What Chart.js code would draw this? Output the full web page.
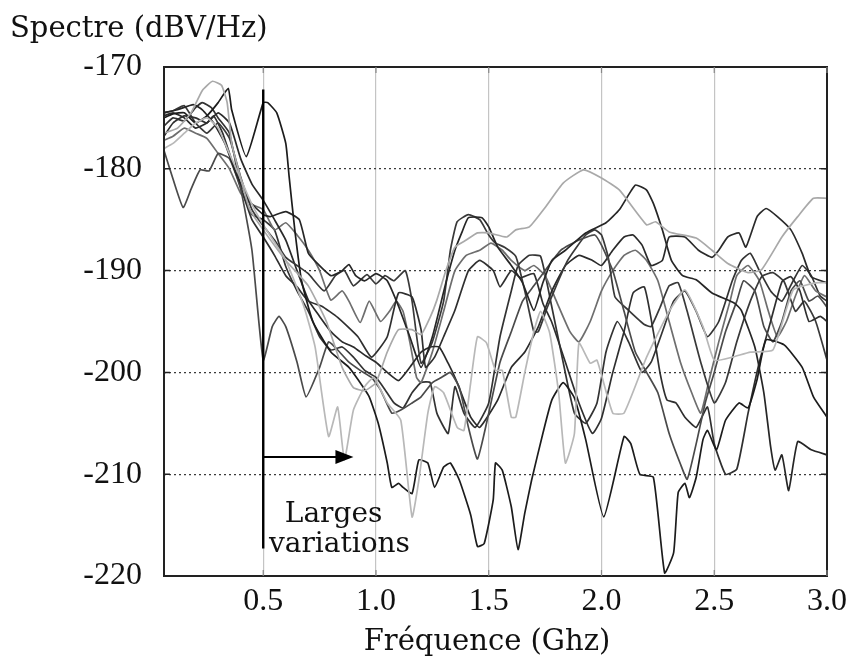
<!DOCTYPE html>
<html><head><meta charset="utf-8">
<script src="https://cdn.jsdelivr.net/npm/chart.js@4.4.1/dist/chart.umd.min.js"></script>
<style>html,body{margin:0;padding:0;background:#fff;overflow:hidden}canvas{display:block}</style>
</head><body>
<canvas id="c" width="853" height="659"></canvas>
<script>
// ---- axis ticks ----
const xTickValues = [0.5, 1.0, 1.5, 2.0, 2.5, 3.0];
const yTickValues = [-170, -180, -190, -200, -210, -220];

// ---- spectra: [frequency GHz, level dBV/Hz] ----
const curve1 = [[0.06,-176.5],[0.12,-176],[0.18,-174.5],[0.23,-172.3],[0.275,-171.4],[0.315,-171.8],[0.34,-173.5],[0.36,-177.5],[0.39,-180.1],[0.44,-184],[0.5,-186],[0.6,-189],[0.7,-191.5],[0.78,-195],[0.85,-199.5],[0.9,-201.5],[0.95,-201.8],[1.0,-201],[1.05,-198],[1.1,-195.8],[1.16,-195.8],[1.2,-196.3],[1.24,-194.6],[1.27,-192.9],[1.31,-190],[1.35,-187.7],[1.4,-187],[1.45,-186.3],[1.5,-186.3],[1.58,-186.7],[1.62,-186],[1.68,-185.7],[1.75,-183.8],[1.83,-181.4],[1.92,-180.1],[2.0,-180.9],[2.08,-182.1],[2.2,-185.5],[2.24,-185.2],[2.3,-186.2],[2.42,-186.8],[2.49,-188],[2.56,-189.3],[2.65,-190.2],[2.71,-189.9],[2.8,-186.7],[2.87,-184.7],[2.94,-182.9],[3.0,-182.9]];
const curve2 = [[0.06,-178],[0.1,-177.5],[0.15,-176.5],[0.2,-175.5],[0.25,-175],[0.3,-176],[0.35,-178.5],[0.4,-181],[0.45,-183.5],[0.5,-185.5],[0.6,-189],[0.68,-193.5],[0.73,-197.5],[0.79,-206.3],[0.83,-203.4],[0.86,-208.6],[0.9,-203.7],[0.95,-201.4],[0.99,-200.5],[1.05,-203],[1.11,-204.7],[1.16,-214.2],[1.19,-210.6],[1.23,-204],[1.26,-201.4],[1.3,-202],[1.36,-205.4],[1.39,-205.7],[1.42,-201],[1.45,-196.5],[1.49,-197.1],[1.53,-199.8],[1.56,-199.8],[1.6,-204.4],[1.62,-204.4],[1.66,-200],[1.7,-196],[1.73,-194],[1.77,-196.1],[1.81,-202],[1.84,-208.9],[1.88,-206],[1.9,-197.1],[1.95,-199.1],[1.98,-198.8],[2.05,-204],[2.1,-204],[2.2,-198.5],[2.3,-194],[2.37,-191.9],[2.45,-195.5],[2.5,-198.8],[2.58,-198.5],[2.66,-198],[2.76,-197.8],[2.85,-191.9],[2.95,-191.2],[3.0,-191.2]];
const curve3 = [[0.06,-175],[0.1,-174.6],[0.15,-174.5],[0.2,-175.5],[0.25,-174.8],[0.3,-173.5],[0.345,-172.1],[0.36,-174.2],[0.425,-178.8],[0.5,-173.5],[0.52,-173.5],[0.56,-174.5],[0.6,-177.5],[0.615,-180.8],[0.64,-186],[0.67,-191],[0.72,-195],[0.8,-198],[0.88,-199.5],[0.92,-200.7],[0.97,-202.4],[1.01,-205],[1.05,-208.9],[1.07,-211.3],[1.1,-210.9],[1.12,-211.3],[1.16,-211.9],[1.19,-208.6],[1.23,-208.9],[1.26,-211.3],[1.3,-209.3],[1.33,-208.9],[1.37,-210.6],[1.42,-214],[1.45,-217.1],[1.48,-216.8],[1.52,-212.5],[1.53,-208.9],[1.56,-209.6],[1.6,-213.2],[1.63,-217.4],[1.66,-213.8],[1.69,-210.6],[1.74,-206],[1.78,-202.7],[1.83,-201],[1.88,-202.5],[1.93,-206.6],[2.01,-214.2],[2.1,-206.3],[2.13,-207],[2.17,-210],[2.23,-210.3],[2.28,-219.7],[2.32,-217.7],[2.34,-211.8],[2.37,-210.9],[2.39,-212.3],[2.42,-210.3],[2.45,-206.6],[2.47,-205.7],[2.51,-207.6],[2.55,-204.7],[2.61,-203],[2.65,-203.5],[2.69,-200.7],[2.73,-196.8],[2.81,-197.3],[2.89,-199.5],[2.94,-202.4],[3.0,-204.4]];
const curve4 = [[0.06,-174.5],[0.12,-174.2],[0.19,-173.7],[0.23,-174.2],[0.28,-175.5],[0.33,-177.5],[0.38,-180.5],[0.44,-183.2],[0.5,-184.5],[0.53,-184.7],[0.6,-184.2],[0.66,-185],[0.7,-188.3],[0.74,-189.3],[0.8,-190.5],[0.85,-190],[0.88,-189.4],[0.91,-190.5],[0.95,-191],[1.0,-190.3],[1.05,-191],[1.1,-193.5],[1.15,-196.5],[1.2,-199.5],[1.25,-196.5],[1.28,-193.9],[1.31,-191.2],[1.35,-188],[1.38,-186.3],[1.41,-184.8],[1.47,-184.8],[1.5,-185.7],[1.54,-187.7],[1.6,-189.5],[1.65,-191.2],[1.7,-193.9],[1.74,-191.2],[1.78,-189],[1.84,-188],[1.93,-186.3],[2.02,-185.3],[2.08,-184],[2.15,-181.6],[2.2,-182.1],[2.23,-183.4],[2.27,-186],[2.31,-189],[2.36,-190.5],[2.42,-190.9],[2.49,-192.2],[2.59,-193.2],[2.62,-193.9],[2.68,-197.5],[2.72,-202],[2.75,-207.3],[2.77,-209.6],[2.8,-208.1],[2.83,-211.6],[2.87,-206.8],[2.93,-207.6],[3.0,-208.1]];
const curve5 = [[0.06,-178.2],[0.1,-181],[0.145,-183.8],[0.18,-182],[0.22,-180.1],[0.26,-180.2],[0.3,-178.5],[0.35,-179],[0.4,-182],[0.45,-188],[0.5,-198.8],[0.54,-195.5],[0.57,-194.5],[0.6,-195.5],[0.65,-199],[0.69,-202.4],[0.75,-199.5],[0.79,-197],[0.83,-197.8],[0.88,-199],[0.93,-199.8],[0.98,-200.5],[1.02,-201.7],[1.07,-204],[1.11,-203.7],[1.16,-203],[1.2,-202.4],[1.25,-201],[1.29,-200.5],[1.33,-200],[1.37,-201.5],[1.41,-205.4],[1.45,-208.5],[1.5,-204],[1.55,-199],[1.6,-196],[1.65,-193],[1.7,-191.5],[1.75,-190],[1.82,-188],[1.9,-187],[1.97,-186.5],[2.0,-187.5],[2.05,-190],[2.1,-194],[2.15,-198],[2.2,-200],[2.25,-202],[2.3,-206],[2.35,-209],[2.38,-210.5],[2.42,-207],[2.46,-203],[2.5,-200],[2.55,-196],[2.6,-193],[2.63,-191],[2.68,-192],[2.72,-195.5],[2.76,-197],[2.8,-195],[2.84,-192],[2.88,-191],[2.92,-193],[2.96,-192.5],[3.0,-193.6]];
const curve6 = [[0.06,-176.8],[0.1,-175.5],[0.15,-174.8],[0.2,-175],[0.25,-175.5],[0.28,-174.8],[0.32,-176.5],[0.38,-180.5],[0.45,-185],[0.5,-186.7],[0.55,-188.5],[0.6,-190.5],[0.65,-191.6],[0.7,-193],[0.76,-193.5],[0.83,-194.6],[0.92,-196.5],[0.98,-198.5],[1.05,-196.5],[1.1,-192.2],[1.16,-192.6],[1.2,-195.8],[1.22,-199.5],[1.26,-198.5],[1.3,-196.5],[1.35,-193.9],[1.41,-190],[1.46,-189],[1.52,-190],[1.55,-191.6],[1.6,-190],[1.64,-190.7],[1.7,-190.3],[1.74,-193.2],[1.78,-195.1],[1.84,-199],[1.9,-203],[1.96,-206],[2.0,-204.5],[2.05,-200],[2.1,-196],[2.14,-192.2],[2.19,-191.6],[2.23,-196],[2.26,-200.1],[2.29,-202.7],[2.33,-203],[2.37,-204.4],[2.42,-205.4],[2.47,-203.4],[2.5,-207],[2.55,-210],[2.6,-209.5],[2.65,-204],[2.7,-199],[2.75,-195],[2.8,-191.1],[2.84,-190.6],[2.88,-192],[2.92,-195],[2.97,-194.5],[3.0,-195]];
const curve7 = [[0.06,-174.5],[0.1,-174.3],[0.15,-173.8],[0.2,-175.5],[0.25,-176.5],[0.3,-175.5],[0.35,-177],[0.4,-180.8],[0.45,-184],[0.5,-185.6],[0.55,-187],[0.6,-188.7],[0.65,-189.5],[0.7,-190.3],[0.77,-192],[0.82,-190.5],[0.86,-190],[0.9,-191.5],[0.96,-190.4],[1.0,-191.3],[1.04,-190.5],[1.08,-191],[1.13,-190],[1.16,-193],[1.2,-199.1],[1.25,-197],[1.3,-193],[1.33,-188],[1.36,-185.2],[1.41,-184.5],[1.46,-185],[1.5,-186.5],[1.53,-187.3],[1.57,-187.7],[1.62,-188.6],[1.66,-192],[1.7,-196],[1.72,-196],[1.76,-193.6],[1.85,-189],[1.93,-186.5],[1.97,-186],[2.0,-186.5],[2.03,-188.7],[2.06,-192.6],[2.12,-193.9],[2.19,-195.3],[2.22,-195.5],[2.26,-193.6],[2.3,-191.5],[2.34,-191.2],[2.38,-194],[2.44,-199],[2.5,-203],[2.55,-201],[2.6,-197],[2.66,-193],[2.71,-190.6],[2.76,-190.2],[2.81,-191.1],[2.86,-194],[2.9,-193],[2.95,-195],[3.0,-198.8]];
const curve8 = [[0.06,-174.8],[0.1,-174.5],[0.15,-175],[0.2,-176],[0.25,-175.5],[0.3,-174.5],[0.35,-175.5],[0.4,-179],[0.45,-181.5],[0.5,-183.1],[0.55,-185],[0.6,-187],[0.65,-190],[0.7,-192.9],[0.75,-194.5],[0.8,-196],[0.85,-197],[0.9,-197.5],[0.95,-198.3],[1.0,-199],[1.05,-200],[1.1,-200.8],[1.15,-199.5],[1.2,-198],[1.24,-197.5],[1.28,-197.5],[1.32,-199.1],[1.36,-201],[1.42,-204.4],[1.46,-205.4],[1.54,-202.7],[1.6,-199.5],[1.66,-198],[1.72,-195.5],[1.78,-192],[1.84,-189.5],[1.9,-188.5],[1.96,-189],[2.0,-189.5],[2.05,-188],[2.1,-186.7],[2.14,-186.5],[2.18,-187.5],[2.22,-189.5],[2.27,-189],[2.3,-186.7],[2.37,-186.7],[2.43,-188],[2.49,-188.7],[2.52,-188],[2.56,-186.7],[2.61,-186.3],[2.64,-187.7],[2.69,-184.7],[2.73,-183.9],[2.78,-184.7],[2.84,-186],[2.89,-188.3],[2.93,-190.6],[3.0,-191.2]];
const curve9 = [[0.06,-177.2],[0.1,-176.8],[0.15,-176],[0.2,-176.5],[0.25,-177],[0.3,-178.5],[0.35,-180],[0.4,-182.4],[0.45,-183.5],[0.5,-184],[0.55,-186],[0.6,-185.3],[0.65,-186.5],[0.7,-188],[0.75,-190],[0.8,-192.9],[0.85,-192],[0.88,-193],[0.93,-195.1],[0.97,-193],[1.02,-195],[1.06,-194],[1.09,-193],[1.12,-194],[1.15,-197],[1.18,-200.5],[1.2,-201],[1.25,-198],[1.3,-194],[1.35,-190],[1.4,-188.5],[1.46,-188],[1.51,-187.3],[1.56,-188],[1.6,-189],[1.66,-190],[1.7,-189.5],[1.75,-190.5],[1.8,-193],[1.86,-196],[1.9,-197],[1.95,-195],[2.0,-192],[2.05,-190],[2.1,-188.5],[2.15,-188],[2.2,-189],[2.25,-191],[2.3,-195],[2.35,-199],[2.4,-202],[2.44,-204],[2.48,-200.5],[2.52,-197],[2.57,-193],[2.6,-190.5],[2.65,-189.5],[2.7,-191],[2.74,-194],[2.78,-196.5],[2.82,-195],[2.86,-192.5],[2.9,-190.5],[2.95,-192],[3.0,-192.6]];
const curve10 = [[0.06,-175.8],[0.1,-175],[0.15,-175.3],[0.2,-174],[0.23,-173.5],[0.27,-174],[0.3,-175],[0.35,-176.5],[0.4,-181.8],[0.45,-184.5],[0.5,-185],[0.55,-186],[0.6,-189.6],[0.65,-192],[0.7,-194],[0.75,-196.5],[0.8,-197.8],[0.85,-197.5],[0.9,-198.5],[0.95,-199.8],[1.0,-200.5],[1.04,-201.7],[1.08,-203],[1.12,-203.5],[1.16,-202],[1.2,-201],[1.24,-201],[1.27,-204],[1.32,-206],[1.35,-201.4],[1.39,-204],[1.44,-205.4],[1.5,-203],[1.55,-196.5],[1.6,-192],[1.63,-189.5],[1.68,-188.5],[1.73,-188.6],[1.78,-193.6],[1.83,-199],[1.88,-204],[1.93,-205],[1.98,-203],[2.02,-198],[2.07,-195],[2.12,-197],[2.18,-200],[2.22,-199],[2.27,-196],[2.32,-193],[2.37,-192],[2.42,-194],[2.47,-196.5],[2.52,-195],[2.58,-191],[2.62,-189],[2.66,-188.3],[2.7,-190],[2.75,-192],[2.8,-193],[2.85,-191],[2.89,-189.5],[2.93,-190.5],[2.97,-192.5],[3.0,-193]];

const curves = [curve1, curve2, curve3, curve4, curve5, curve6, curve7, curve8, curve9, curve10];
const colors = ['#a9a9a9', '#b8b8b8', '#1c1c1c', '#262626', '#4a4a4a', '#2f2f2f', '#393939', '#2a2a2a', '#6e6e6e', '#333333'];

const TITLE_FONT = '"DejaVu Serif", serif';
const TICK_FONT = '"Liberation Serif", "Times New Roman", serif';

const decor = {
  id: 'decor',
  afterDatasetsDraw(chart) {
    const { ctx, chartArea: a, scales: { x, y } } = chart;
    ctx.save();
    ctx.strokeStyle = '#222';
    ctx.lineWidth = 2;
    ctx.strokeRect(a.left, a.top, a.right - a.left, a.bottom - a.top);
    ctx.lineWidth = 1.5;
    yTickValues.forEach(v => {
      const py = y.getPixelForValue(v);
      ctx.beginPath();
      ctx.moveTo(a.left, py); ctx.lineTo(a.left + 6, py);
      ctx.moveTo(a.right, py); ctx.lineTo(a.right - 6, py);
      ctx.stroke();
    });
    ctx.strokeStyle = '#888';
    ctx.lineWidth = 1.2;
    xTickValues.forEach(v => {
      const px = x.getPixelForValue(v);
      ctx.beginPath();
      ctx.moveTo(px, a.top); ctx.lineTo(px, a.top + 6);
      ctx.moveTo(px, a.bottom); ctx.lineTo(px, a.bottom - 6);
      ctx.stroke();
    });
    const x0 = x.getPixelForValue(0.5);
    ctx.strokeStyle = '#000';
    ctx.lineWidth = 2.4;
    ctx.beginPath();
    ctx.moveTo(x0, y.getPixelForValue(-172.2));
    ctx.lineTo(x0, y.getPixelForValue(-217.3));
    ctx.stroke();
    const ya = y.getPixelForValue(-208.3);
    const xt = x.getPixelForValue(0.9);
    ctx.lineWidth = 2;
    ctx.beginPath();
    ctx.moveTo(x0, ya); ctx.lineTo(xt - 15, ya);
    ctx.stroke();
    ctx.fillStyle = '#000';
    ctx.beginPath();
    ctx.moveTo(xt, ya); ctx.lineTo(xt - 18, ya - 7); ctx.lineTo(xt - 18, ya + 7);
    ctx.closePath();
    ctx.fill();
    ctx.font = '28px ' + TITLE_FONT;
    ctx.textAlign = 'center';
    ctx.textBaseline = 'alphabetic';
    ctx.fillStyle = '#111';
    ctx.fillText('Larges', x.getPixelForValue(0.812), y.getPixelForValue(-214.7));
    ctx.fillText('variations', x.getPixelForValue(0.838), y.getPixelForValue(-217.6));
    ctx.restore();
  },
  afterDraw(chart) {
    const { ctx } = chart;
    ctx.save();
    ctx.fillStyle = '#111';
    ctx.font = '29px ' + TITLE_FONT;
    ctx.textBaseline = 'alphabetic';
    ctx.textAlign = 'left';
    ctx.fillText('Spectre (dBV/Hz)', 10, 37);
    ctx.textAlign = 'center';
    ctx.fillText('Fréquence (Ghz)', 487, 650);
    ctx.restore();
  }
};

new Chart(document.getElementById('c'), {
  type: 'line',
  data: {
    datasets: curves.map((c, i) => ({
      data: c.map(p => ({ x: p[0], y: p[1] })),
      borderColor: colors[i],
      borderWidth: 1.7,
      pointRadius: 0,
      tension: 0.15,
      fill: false
    }))
  },
  options: {
    responsive: false,
    animation: false,
    events: [],
    layout: { padding: { top: 67, right: 22, bottom: 0, left: 0 } },
    plugins: { legend: { display: false }, tooltip: { enabled: false } },
    scales: {
      x: {
        type: 'linear',
        min: 0.06, max: 3.0,
        afterBuildTicks: s => { s.ticks = xTickValues.map(v => ({ value: v })); },
        afterFit: s => { s.height = 83; },
        ticks: {
          callback: v => Number(v).toFixed(1),
          font: { family: TICK_FONT, size: 32 },
          color: '#111',
          padding: 6,
          maxRotation: 0,
          autoSkip: false
        },
        grid: { color: '#c4c4c4', lineWidth: 1.2, drawTicks: false },
        border: { display: false }
      },
      y: {
        type: 'linear',
        min: -220, max: -170,
        afterBuildTicks: s => { s.ticks = yTickValues.map(v => ({ value: v })); },
        afterFit: s => { s.width = 164; },
        ticks: {
          callback: v => String(v),
          font: { family: TICK_FONT, size: 32 },
          color: '#111',
          padding: 22
        },
        grid: { color: '#3a3a3a', lineWidth: 1.2, drawTicks: false },
        border: { display: false, dash: [2, 3] }
      }
    }
  },
  plugins: [decor]
});
</script>
</body></html>
